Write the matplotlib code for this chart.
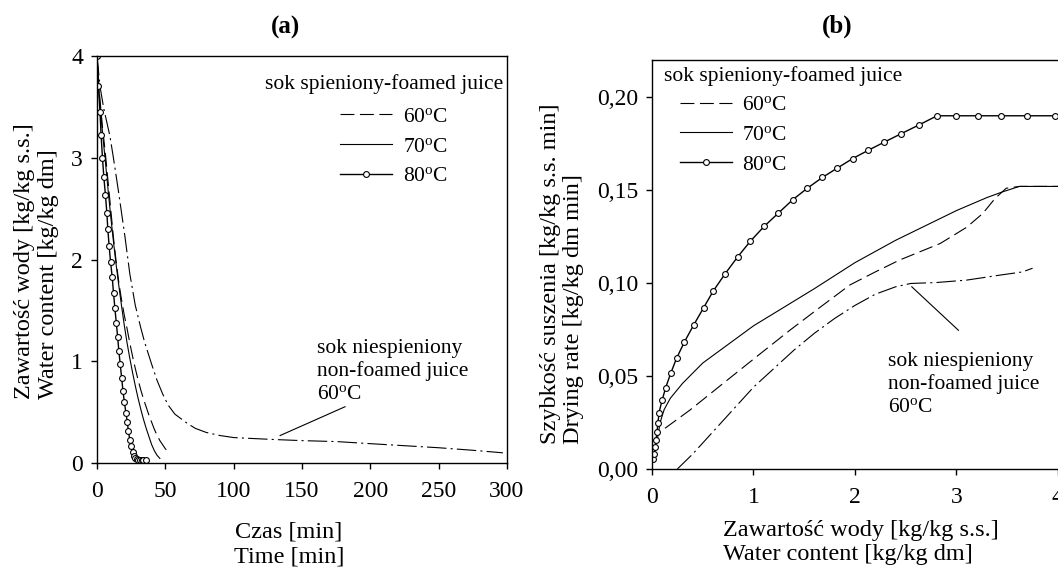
import numpy as np
import matplotlib
matplotlib.use("Agg")
import matplotlib.pyplot as plt

plt.rcParams['font.family'] = ['Liberation Serif', 'DejaVu Serif']
plt.rcParams['mathtext.fontset'] = 'custom'
plt.rcParams['mathtext.rm'] = 'Liberation Serif'
plt.rcParams['mathtext.it'] = 'Liberation Serif:italic'
plt.rcParams['lines.scale_dashes'] = False

# ---- panel (a): water content vs time ----
t_80 = [0, 1, 2.2, 3, 4, 5, 6.2, 7.2, 7.9, 8.9, 9.9, 11.1, 12.1, 13.1, 14.1, 15.1, 16, 17, 18, 19,
        20, 21.2, 22.2, 23, 24, 25, 26, 27, 28, 29, 30.2, 31.5, 32.7, 33.9, 35.6]
w_80 = [4.0, 3.71, 3.45, 3.22, 3.0, 2.81, 2.63, 2.46, 2.30, 2.13, 1.98, 1.83, 1.67, 1.52, 1.38, 1.24,
        1.10, 0.97, 0.84, 0.71, 0.60, 0.49, 0.40, 0.31, 0.23, 0.17, 0.11, 0.07, 0.05, 0.035, 0.025,
        0.025, 0.03, 0.03, 0.025]
t_70 = [0, 1, 2, 4, 6, 8, 10, 12, 14, 16, 18, 20, 22, 24, 26, 28, 30, 32, 34, 36, 38, 40, 42, 44, 46]
w_70 = [4.0, 3.75, 3.55, 3.25, 2.98, 2.7, 2.43, 2.18, 1.95, 1.74, 1.54, 1.35, 1.18, 1.03, 0.89, 0.76,
        0.64, 0.53, 0.43, 0.34, 0.26, 0.18, 0.12, 0.075, 0.045]
t_60 = [0, 1, 2, 4, 6, 8, 10, 12, 14, 16, 18, 20, 22, 24, 26, 28, 30, 32, 34, 36, 38, 40, 42, 44, 46,
        48, 50, 52, 53.5]
w_60 = [4.0, 3.78, 3.6, 3.3, 3.06, 2.78, 2.5, 2.22, 1.98, 1.77, 1.6, 1.45, 1.32, 1.18, 1.05, 0.93,
        0.82, 0.72, 0.63, 0.55, 0.47, 0.4, 0.33, 0.27, 0.22, 0.18, 0.14, 0.11, 0.09]
t_nf = [0, 2.2, 5, 9.5, 12, 15.6, 20.5, 24, 28, 32, 35, 40, 44, 48, 52, 57, 62, 66, 72, 80, 90, 100,
        115, 131, 150, 176, 200, 225, 250, 275, 297]
w_nf = [4.0, 3.70, 3.48, 3.21, 3.0, 2.68, 2.22, 1.86, 1.55, 1.33, 1.18, 0.97, 0.81, 0.68, 0.57, 0.48,
        0.43, 0.39, 0.34, 0.30, 0.27, 0.25, 0.24, 0.23, 0.22, 0.21, 0.19, 0.17, 0.15, 0.125, 0.10]

# ---- panel (b): drying rate vs water content ----
x_80 = [0.013, 0.023, 0.033, 0.040, 0.049, 0.059, 0.069, 0.099, 0.135, 0.185, 0.244, 0.320, 0.409,
        0.508, 0.603, 0.719, 0.844, 0.969, 1.105, 1.246, 1.388, 1.530, 1.678, 1.827, 1.978, 2.133,
        2.288, 2.453, 2.628, 2.809, 3.000, 3.211, 3.442, 3.693, 3.976]
r_80 = [0.0053, 0.0082, 0.0117, 0.0156, 0.0199, 0.0248, 0.0303, 0.0369, 0.0438, 0.0516, 0.0598,
        0.0684, 0.0773, 0.0867, 0.0957, 0.1049, 0.1141, 0.1225, 0.1305, 0.1377, 0.1449, 0.1510,
        0.1568, 0.1619, 0.1670, 0.1715, 0.1758, 0.1803, 0.1850, 0.190, 0.190, 0.190, 0.190, 0.190,
        0.190]
x_70 = [0.05, 0.08, 0.12, 0.18, 0.3, 0.5, 0.7, 1.0, 1.3, 1.6, 2.0, 2.4, 2.7, 3.0, 3.3, 3.45, 3.62, 4.05]
r_70 = [0.015, 0.025, 0.032, 0.038, 0.046, 0.057, 0.065, 0.077, 0.087, 0.097, 0.111, 0.123, 0.131,
        0.139, 0.146, 0.149, 0.152, 0.152]
x_60 = [0.128, 0.374, 0.70, 1.03, 1.36, 1.62, 1.95, 2.2, 2.44, 2.84, 3.10, 3.26, 3.38, 3.49, 3.62, 4.05]
r_60 = [0.0219, 0.0317, 0.046, 0.0604, 0.0747, 0.0855, 0.099, 0.106, 0.1124, 0.1213, 0.130, 0.1375,
        0.1455, 0.151, 0.152, 0.152]
x_nf = [0.25, 0.4, 0.6, 0.8, 1.0, 1.2, 1.4, 1.6, 1.8, 2.0, 2.2, 2.4, 2.55, 2.8, 3.1, 3.43, 3.65, 3.75]
r_nf = [0.0, 0.008, 0.020, 0.032, 0.044, 0.054, 0.064, 0.073, 0.081, 0.088, 0.094, 0.098, 0.0998,
        0.1003, 0.1016, 0.1043, 0.106, 0.108]

yticks_b = [0.0, 0.05, 0.10, 0.15, 0.20]
ytick_labels_b = ['0,00', '0,05', '0,10', '0,15', '0,20']

temp_labels = ['60$^{\\mathrm{o}}$C', '70$^{\\mathrm{o}}$C', '80$^{\\mathrm{o}}$C']

DASH = (0, (10, 4))
DASHDOT = (0, (14, 3, 1.5, 3))
TICK_FS = 17
LAB_FS = 17.5
TXT_FS = 15.5

fig = plt.figure(figsize=(10.58, 5.69), dpi=100)
W, H = 1058, 569
ax1 = fig.add_axes([97 / W, (H - 463) / H, 410 / W, 407 / H])
ax2 = fig.add_axes([652 / W, (H - 469) / H, 411 / W, 409 / H])

for ax in (ax1, ax2):
    for sp in ax.spines.values():
        sp.set_linewidth(1.0)
    ax.tick_params(direction='out', length=4, width=1, labelsize=TICK_FS)
    ax.tick_params(axis='x', pad=9)
    ax.tick_params(axis='y', pad=6)

# (a)
ax1.plot(t_nf, w_nf, color='black', lw=0.8, ls=DASHDOT)
ax1.plot(t_60, w_60, color='black', lw=0.8, ls=DASH, label=temp_labels[0])
ax1.plot(t_70, w_70, color='black', lw=0.8, ls='-', label=temp_labels[1])
ax1.plot(t_80, w_80, color='black', lw=1.0, ls='-', marker='o', ms=4.2, mfc='white',
         mec='black', mew=0.8, label=temp_labels[2])
ax1.set_xlim(0, 300)
ax1.set_ylim(0, 4)
ax1.set_xticks([0, 50, 100, 150, 200, 250, 300])
ax1.set_yticks([0, 1, 2, 3, 4])
ax1.set_xlabel('Czas [min]\nTime [min]', fontsize=LAB_FS, linespacing=1.2)
ax1.xaxis.set_label_coords(0.468, -0.2)
ax1.xaxis.label.set_va('center')
ax1.set_ylabel('Zawartość wody [kg/kg s.s.]\nWater content [kg/kg dm]', fontsize=LAB_FS,
               linespacing=1.2, multialignment='left')
ax1.yaxis.set_label_coords(-0.1476, 0.495)
ax1.yaxis.label.set_va('center')
ax1.text(0.99, 0.932, 'sok spieniony-foamed juice', transform=ax1.transAxes, ha='right',
         va='center', fontsize=TXT_FS)
ax1.legend(loc='upper left', bbox_to_anchor=(0.593, 0.875), frameon=False, fontsize=TXT_FS,
           borderpad=0, borderaxespad=0, handlelength=2.4, handletextpad=0.5, labelspacing=0.45)
ax1.text(160.8, 0.90, 'sok niespieniony\nnon-foamed juice\n60$^{\\mathrm{o}}$C', ha='left',
         va='center', fontsize=TXT_FS, linespacing=1.22)
ax1.plot([134, 181.5], [0.27, 0.553], color='black', lw=0.8)
ax1.set_title('(a)', fontsize=18, fontweight='bold', x=(285 - 97) / 410, pad=16)

# (b)
ax2.plot(x_nf, r_nf, color='black', lw=0.8, ls=DASHDOT)
ax2.plot(x_60, r_60, color='black', lw=0.8, ls=DASH, label=temp_labels[0])
ax2.plot(x_70, r_70, color='black', lw=0.8, ls='-', label=temp_labels[1])
ax2.plot(x_80, r_80, color='black', lw=1.0, ls='-', marker='o', ms=4.2, mfc='white',
         mec='black', mew=0.8, label=temp_labels[2])
ax2.set_xlim(0, 4.05)
ax2.set_ylim(0, 0.22)
ax2.set_xticks([0, 1, 2, 3, 4])
ax2.set_yticks(yticks_b)
ax2.set_yticklabels(ytick_labels_b)
ax2.spines['right'].set_visible(False)
ax2.set_xlabel('Zawartość wody [kg/kg s.s.]\nWater content [kg/kg dm]', fontsize=LAB_FS,
               linespacing=1.2, multialignment='left')
ax2.xaxis.set_label_coords(0.508, -0.18)
ax2.xaxis.label.set_va('center')
ax2.set_ylabel('Szybkość suszenia [kg/kg s.s. min]\nDrying rate [kg/kg dm min]', fontsize=LAB_FS,
               linespacing=1.18, multialignment='left')
ax2.yaxis.set_label_coords(-0.219, 0.478)
ax2.yaxis.label.set_va('center')
ax2.text(0.029, 0.96, 'sok spieniony-foamed juice', transform=ax2.transAxes, ha='left',
         va='center', fontsize=TXT_FS)
ax2.legend(loc='upper left', bbox_to_anchor=(0.068, 0.914), frameon=False, fontsize=TXT_FS,
           borderpad=0, borderaxespad=0, handlelength=2.4, handletextpad=0.5, labelspacing=0.45)
ax2.text(2.325, 0.0455, 'sok niespieniony\nnon-foamed juice\n60$^{\\mathrm{o}}$C', ha='left',
         va='center', fontsize=TXT_FS, linespacing=1.22)
ax2.plot([2.56, 3.02], [0.098, 0.0746], color='black', lw=0.8)
ax2.set_title('(b)', fontsize=18, fontweight='bold', x=(837 - 652) / 411, pad=20)

fig.savefig('out.png', dpi=100)
